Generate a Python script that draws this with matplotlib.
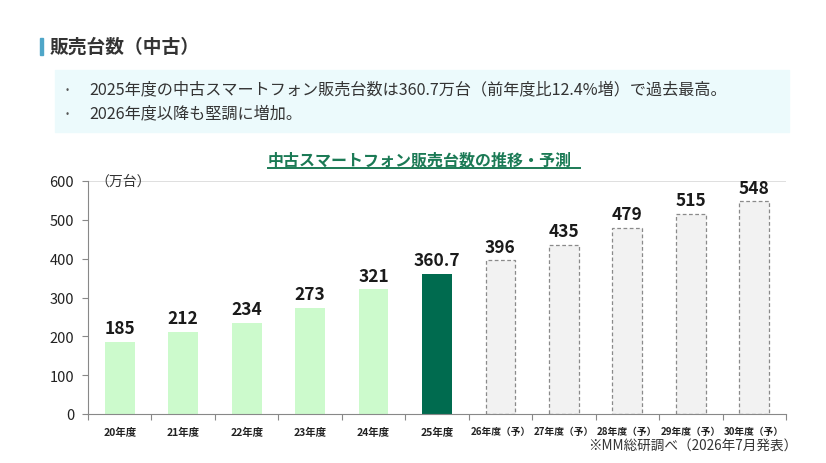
import matplotlib
matplotlib.use("Agg")
import matplotlib.pyplot as plt
from matplotlib.lines import Line2D
from matplotlib.patches import Rectangle

plt.rcParams['font.family'] = ['Noto Sans CJK JP', 'DejaVu Sans']

categories = ["20年度", "21年度", "22年度", "23年度", "24年度", "25年度",
              "26年度（予）", "27年度（予）", "28年度（予）", "29年度（予）", "30年度（予）"]
values = [185, 212, 234, 273, 321, 360.7, 396, 435, 479, 515, 548]
value_labels = ["185", "212", "234", "273", "321", "360.7", "396", "435", "479", "515", "548"]
kinds = ["past"] * 5 + ["current"] + ["forecast"] * 5
yticks = [0, 100, 200, 300, 400, 500, 600]

page_title = "販売台数（中古）"
bullets = ["2025年度の中古スマートフォン販売台数は360.7万台（前年度比12.4%増）で過去最高。",
           "2026年度以降も堅調に増加。"]
chart_title = "中古スマートフォン販売台数の推移・予測"
unit_label = "（万台）"
source = "※MM総研調べ（2026年7月発表）"

W, H = 826, 464
fig = plt.figure(figsize=(W / 100, H / 100), dpi=100)

# page header
fig.patches.append(Rectangle((40 / W, 1 - 56 / H), 3 / W, 17 / H, transform=fig.transFigure,
                             color="#4FA6C8", zorder=1))
fig.text(50 / W, 1 - 47 / H, page_title, fontsize=13.5, fontweight="bold", color="#333333",
         va="center", ha="left")

# bullet box
fig.patches.append(Rectangle((55 / W, 1 - 133 / H), 734 / W, 62 / H, transform=fig.transFigure,
                             color="#ECFAFC", zorder=0))
for i, b in enumerate(bullets):
    y = 1 - (90 + 24 * i) / H
    fig.text(66 / W, y, "•", fontsize=7, color="#555555", va="center", ha="left")
    fig.text(89 / W, y, b, fontsize=11.6, color="#333333", va="center", ha="left")

ax = fig.add_axes([88 / W, 1 - 415 / H, 698 / W, 233 / H])
x = list(range(len(categories)))
colors = {"past": "#CCFACC", "current": "#006B4F", "forecast": "#F2F2F2"}
for xi, v, k in zip(x, values, kinds):
    if k == "forecast":
        ax.bar(xi, v, width=0.47, color=colors[k], edgecolor="#8A8A8A", linestyle=(0, (3, 2)),
               linewidth=0.9, zorder=2)
    else:
        ax.bar(xi, v, width=0.47, color=colors[k], edgecolor="none", zorder=2)
for xi, v, lab in zip(x, values, value_labels):
    ax.text(xi, v + 12, lab, ha="center", va="bottom", fontsize=12.5, fontweight="bold",
            color="#1a1a1a")

ax.set_xlim(-0.5, len(categories) - 0.5)
ax.set_ylim(0, 600)
ax.set_yticks(yticks)
ax.set_yticklabels([str(t) for t in yticks], fontsize=10.5, color="#222222")
ax.tick_params(axis="y", length=4, width=0.8, color="#888888", pad=6)
ax.set_xticks(x)
ax.set_xticklabels(categories, fontweight="bold", color="#222222")
for lbl, k in zip(ax.get_xticklabels(), kinds):
    lbl.set_fontsize(7.0 if k == "forecast" else 7.5)
ax.tick_params(axis="x", which="major", length=0, pad=9)
ax.set_xticks([i - 0.5 for i in range(len(categories) + 1)], minor=True)
ax.tick_params(axis="x", which="minor", length=4, width=0.8, color="#888888")
for s in ["top", "right"]:
    ax.spines[s].set_visible(False)
ax.spines["left"].set_color("#888888")
ax.spines["bottom"].set_color("#888888")
ax.axhline(600, color="#D9D9D9", linewidth=1.2, zorder=1)

ax.text(0.01, 600, unit_label, fontsize=10, color="#333333", va="center", ha="left",
        transform=ax.get_yaxis_transform(), zorder=3)

# chart title with underline
t = fig.text(420 / W, 1 - 160 / H, chart_title, fontsize=11.5, fontweight="bold",
             color="#1B7A55", ha="center", va="center")
fig.canvas.draw()
bb = t.get_window_extent().transformed(fig.transFigure.inverted())
fig.lines.append(Line2D([bb.x0, bb.x1 + 8 / W], [bb.y0 - 1 / H, bb.y0 - 1 / H],
                        transform=fig.transFigure, color="#1B7A55", linewidth=1.4))

fig.text(797 / W, 1 - 446 / H, source, fontsize=9.8, color="#333333", ha="right", va="center")

fig.savefig("out.png", dpi=100)
